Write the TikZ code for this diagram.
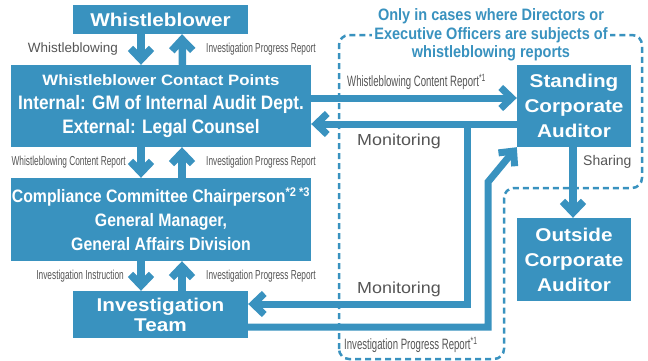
\documentclass[tikz,border=0pt]{standalone}
\usepackage{fontspec}
\setmainfont{Liberation Sans}
\newfontfamily\widefont{Liberation Sans}[FakeStretch=1.12]
\newfontfamily\condfont{Liberation Sans}[FakeStretch=0.88]
\newfontfamily\narrowfont{Liberation Sans}[FakeStretch=0.64]
\usetikzlibrary{arrows.meta}
\definecolor{boxblue}{RGB}{57,146,191}
\definecolor{labelgray}{RGB}{85,85,85}

\begin{document}
\begin{tikzpicture}[
        x=1pt, y=-1pt,
        box/.style={rectangle, fill=boxblue, text=white, inner sep=0pt, align=center},
        flow/.style={boxblue, line width=7.5pt, -{Straight Barb[length=11pt, width=21pt]}},
        link/.style={boxblue, line width=7pt, line join=miter, -{Straight Barb[length=11pt, width=21pt]}},
        lbl/.style={inner sep=0pt, text=labelgray, font=\narrowfont\fontsize{13}{15}\selectfont},
        note/.style={inner sep=0pt, text=labelgray, font=\narrowfont\fontsize{15}{17}\selectfont},
        bigfont/.style={font=\widefont\bfseries\fontsize{18.5}{25}\selectfont}
    ]
        \useasboundingbox (0,0) rectangle (648,360);

        % Dashed area for directors / executive officers
        \draw[boxblue, line width=2.5pt, dash pattern=on 6pt off 4pt, rounded corners=10pt]
            (339,359) -- (339,35) -- (642,35) -- (642,188) -- (504,188) -- (504,359) -- cycle;
        \node[fill=white, inner sep=2pt, align=center, text=boxblue, font=\condfont\bfseries\fontsize{16.5}{18.5}\selectfont] (caption) at (491,35)
            {Only in cases where Directors or\\Executive Officers are subjects of\\whistleblowing reports};

        % Left column
        \node[box, bigfont, minimum width=175pt, minimum height=29pt] (wb) at (160.5,19.5) {Whistleblower};
        \node[box, minimum width=300pt, minimum height=82pt, font=\condfont\bfseries\fontsize{19.5}{24}\selectfont] (cp) at (161,106)
            {{\widefont\fontsize{15}{24}\selectfont Whistleblower Contact Points}\\Internal: GM of Internal Audit Dept.\\External: Legal Counsel};
        \node[box, minimum width=300pt, minimum height=83pt, font=\condfont\bfseries\fontsize{18}{24}\selectfont] (ccc) at (161,219.5)
            {Compliance Committee Chairperson\textsuperscript{*2 *3}\\General Manager,\\General Affairs Division};
        \node[box, bigfont, minimum width=175pt, minimum height=47pt, font=\widefont\bfseries\fontsize{18.5}{20}\selectfont] (it) at (160.5,314.5) {Investigation\\Team};

        % Right column
        \node[box, bigfont, minimum width=114pt, minimum height=82pt] (sca) at (574,106) {Standing\\Corporate\\Auditor};
        \node[box, bigfont, minimum width=114pt, minimum height=83pt] (oca) at (574,259.5) {Outside\\Corporate\\Auditor};

        % Arrows down / up
        \draw[flow] ([xshift=-19.5pt]wb.south) -- ([xshift=-20pt]cp.north);
        \draw[flow] ([xshift=21.5pt]cp.north) -- ([xshift=21.5pt]wb.south);
        \draw[flow] ([xshift=-20pt]cp.south) -- ([xshift=-20pt]ccc.north);
        \draw[flow] ([xshift=21pt]ccc.north) -- ([xshift=21pt]cp.south);
        \draw[flow] ([xshift=-20pt]ccc.south) -- ([xshift=-19.5pt]it.north);
        \draw[flow] ([xshift=21.5pt]it.north) -- ([xshift=21pt]ccc.south);

        % Reports to the auditor and monitoring
        \coordinate (split) at (467,124);
        \draw[link] ([yshift=8pt]cp.east) -- ([yshift=8pt]sca.west);
        \draw[link] ([yshift=-18pt]sca.west) -- ([yshift=-18pt]cp.east);
        \draw[link] (split) |- ([yshift=10.5pt]it.east);
        \draw[link] ([yshift=-12.5pt]it.east) -| (488,182) -- (sca.south west);
        \draw[flow] ([xshift=-1pt]sca.south) -- ([xshift=-1pt]oca.north);

        % Labels
        \node[inner sep=0pt, text=labelgray, font=\fontsize{13.5}{16}\selectfont, anchor=east] (l1) at (118,49) {Whistleblowing};
        \node[lbl, anchor=west] (r1) at (206,49) {Investigation Progress Report};
        \node[lbl, anchor=east] (l2) at (126,162) {Whistleblowing Content Report};
        \node[lbl, anchor=west] (r2) at (206,162) {Investigation Progress Report};
        \node[lbl, anchor=east] (l3) at (124,276) {Investigation Instruction};
        \node[lbl, anchor=west] (r3) at (206,276) {Investigation Progress Report};
        \node[note, anchor=west] (wcr) at (347,82) {Whistleblowing Content Report\textsuperscript{*1}};
        \node[note, anchor=west] (ipr) at (344,345) {Investigation Progress Report\textsuperscript{*1}};
        \node[inner sep=0pt, text=labelgray, font=\widefont\fontsize{16}{18}\selectfont, anchor=west] (mon1) at (357,141) {Monitoring};
        \node[inner sep=0pt, text=labelgray, font=\widefont\fontsize{16}{18}\selectfont, anchor=west] (mon2) at (357,289) {Monitoring};
        \node[inner sep=0pt, text=labelgray, font=\fontsize{14}{16}\selectfont, anchor=west] (share) at (583,162) {Sharing};

    \end{tikzpicture}
\end{document}
